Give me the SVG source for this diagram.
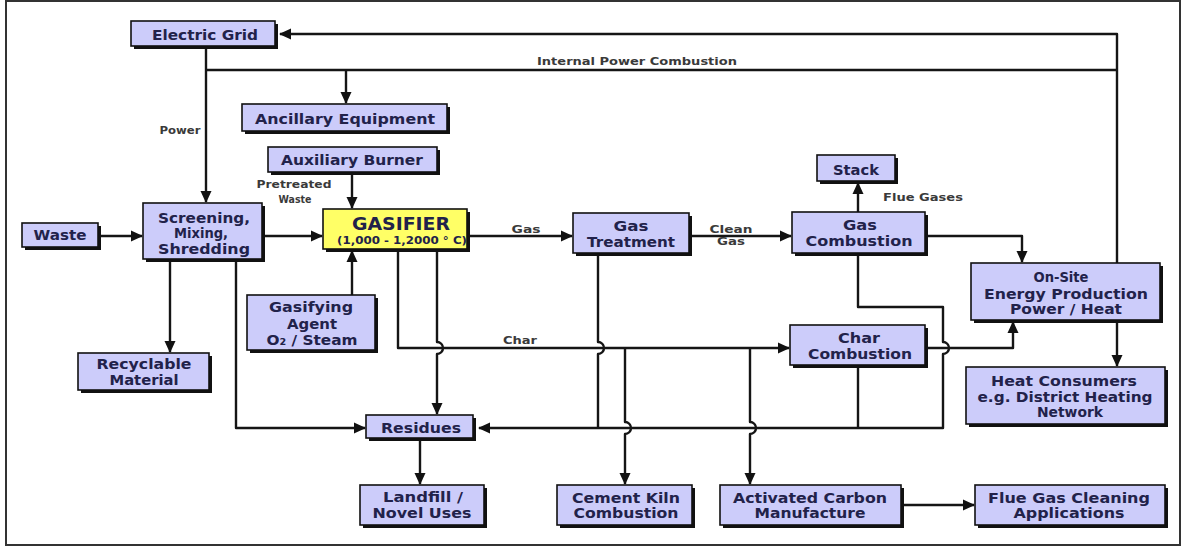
<svg xmlns="http://www.w3.org/2000/svg" width="1182" height="547" viewBox="0 0 1182 547">
  <style>
    .box { fill: #ccccfa; stroke: #111; stroke-width: 1.6; }
    .gas { fill: #ffff66; stroke: #111; stroke-width: 1.6; }
    .shadow { fill: #111; }
    .t { font-family: "DejaVu Sans", Verdana, sans-serif; font-weight: bold; font-size: 14px; fill: #22224a; text-anchor: middle; }
    .lbl { font-family: "DejaVu Sans", Verdana, sans-serif; font-weight: bold; font-size: 10px; fill: #3a3a3a; text-anchor: middle; }
    .ln { fill: none; stroke: #151515; stroke-width: 2.4; stroke-linejoin: round; }
  </style>
  <defs>
    <marker id="ah" markerUnits="userSpaceOnUse" markerWidth="12" markerHeight="12" viewBox="0 0 12 12" refX="11" refY="6" orient="auto">
      <path d="M0,0.5 L12,6 L0,11.5 Z" fill="#111"/>
    </marker>
  </defs>

  <rect x="0" y="0" width="1182" height="547" fill="#fff"/>
  <rect x="6" y="1" width="1174" height="544" fill="#fff" stroke="#333" stroke-width="2"/>

  <!-- connectors -->
  <g id="connectors">
    <path class="ln" d="M1117,263 V34 H280" marker-end="url(#ah)"/>
    <path class="ln" d="M206,70 H1117"/>
    <path class="ln" d="M206,49 V202" marker-end="url(#ah)"/>
    <path class="ln" d="M346,70 V103" marker-end="url(#ah)"/>
    <path class="ln" d="M352,174 V208" marker-end="url(#ah)"/>
    <path class="ln" d="M352,295 V251" marker-end="url(#ah)"/>
    <path class="ln" d="M98,236 H142" marker-end="url(#ah)"/>
    <path class="ln" d="M263,236 H322" marker-end="url(#ah)"/>
    <path class="ln" d="M170,261 V352" marker-end="url(#ah)"/>
    <path class="ln" d="M236,261 V428 H365" marker-end="url(#ah)"/>
    <!-- char line from gasifier -->
    <path class="ln" d="M398,251 V348 H789" marker-end="url(#ah)"/>
    <!-- gasifier to residues, hopping the char line -->
    <path class="ln" d="M437,251 V342 a6,6 0 0 1 0,12 V414" marker-end="url(#ah)"/>
    <path class="ln" d="M468,236 H572" marker-end="url(#ah)"/>
    <path class="ln" d="M690,236 H791" marker-end="url(#ah)"/>
    <!-- gas treatment residue drop -->
    <path class="ln" d="M598,255 V342 a6,6 0 0 1 0,12 V428"/>
    <!-- char branches -->
    <path class="ln" d="M625,348 V422 a6,6 0 0 1 0,12 V484" marker-end="url(#ah)"/>
    <path class="ln" d="M750,348 V422 a6,6 0 0 1 0,12 V484" marker-end="url(#ah)"/>
    <!-- stack -->
    <path class="ln" d="M858,212 V183" marker-end="url(#ah)"/>
    <path class="ln" d="M926,236 H1022 V262" marker-end="url(#ah)"/>
    <!-- combustion residues return line -->
    <path class="ln" d="M858,255 V307 H943 V342 a6,6 0 0 1 0,12 V428 H479" marker-end="url(#ah)"/>
    <path class="ln" d="M858,367 V428"/>
    <path class="ln" d="M926,348 H1013 V322" marker-end="url(#ah)"/>
    <path class="ln" d="M1117,322 V366" marker-end="url(#ah)"/>
    <path class="ln" d="M902,505 H974" marker-end="url(#ah)"/>
    <path class="ln" d="M420,439 V484" marker-end="url(#ah)"/>
  </g>

  <!-- connector labels -->
  <g id="labels">
    <text class="lbl" x="637" y="65" textLength="200" lengthAdjust="spacingAndGlyphs">Internal Power Combustion</text>
    <text class="lbl" x="180" y="134" textLength="41" lengthAdjust="spacingAndGlyphs">Power</text>
    <text class="lbl" x="294" y="188" textLength="75" lengthAdjust="spacingAndGlyphs">Pretreated</text>
    <text class="lbl" x="295" y="203" textLength="33" lengthAdjust="spacingAndGlyphs">Waste</text>
    <text class="lbl" x="526" y="233" textLength="29" lengthAdjust="spacingAndGlyphs">Gas</text>
    <text class="lbl" x="731" y="233" textLength="43" lengthAdjust="spacingAndGlyphs">Clean</text>
    <text class="lbl" x="731" y="245" textLength="28" lengthAdjust="spacingAndGlyphs">Gas</text>
    <text class="lbl" x="520" y="344" textLength="34" lengthAdjust="spacingAndGlyphs">Char</text>
    <text class="lbl" x="923" y="201" textLength="80" lengthAdjust="spacingAndGlyphs">Flue Gases</text>
  </g>

  <g id="electric-grid">
    <rect class="shadow" x="134" y="24" width="144" height="25"/>
    <rect class="box" x="131" y="21" width="144" height="25"/>
    <text class="t" x="205" y="40" textLength="106" lengthAdjust="spacingAndGlyphs">Electric Grid</text>
  </g>
  <g id="ancillary-equipment">
    <rect class="shadow" x="245" y="107" width="205" height="27"/>
    <rect class="box" x="242" y="104" width="205" height="27"/>
    <text class="t" x="345" y="124" textLength="180" lengthAdjust="spacingAndGlyphs">Ancillary Equipment</text>
  </g>
  <g id="auxiliary-burner">
    <rect class="shadow" x="271" y="150" width="169" height="25"/>
    <rect class="box" x="268" y="147" width="169" height="25"/>
    <text class="t" x="352" y="165" textLength="142" lengthAdjust="spacingAndGlyphs">Auxiliary Burner</text>
  </g>
  <g id="waste">
    <rect class="shadow" x="25" y="226" width="76" height="24"/>
    <rect class="box" x="22" y="223" width="76" height="24"/>
    <text class="t" x="60" y="240" textLength="53" lengthAdjust="spacingAndGlyphs">Waste</text>
  </g>
  <g id="screening">
    <rect class="shadow" x="146" y="206" width="119" height="56"/>
    <rect class="box" x="143" y="203" width="119" height="56"/>
    <text class="t" x="204" y="223" textLength="92" lengthAdjust="spacingAndGlyphs">Screening,</text>
    <text class="t" x="201" y="238" textLength="54" lengthAdjust="spacingAndGlyphs">Mixing,</text>
    <text class="t" x="204" y="254" textLength="92" lengthAdjust="spacingAndGlyphs">Shredding</text>
  </g>
  <g id="gasifier">
    <rect class="shadow" x="326" y="212" width="144" height="40"/>
    <rect class="gas" x="323" y="209" width="144" height="40"/>
    <text class="t" x="401" y="230" style="font-size:17px" textLength="98" lengthAdjust="spacingAndGlyphs">GASIFIER</text>
    <text class="t" x="402" y="244" style="font-size:10px" textLength="130" lengthAdjust="spacingAndGlyphs">(1,000 - 1,2000 ° C)</text>
  </g>
  <g id="gasifying-agent">
    <rect class="shadow" x="250" y="298" width="128" height="55"/>
    <rect class="box" x="247" y="295" width="128" height="55"/>
    <text class="t" x="311" y="312" textLength="84" lengthAdjust="spacingAndGlyphs">Gasifying</text>
    <text class="t" x="312" y="329" textLength="50" lengthAdjust="spacingAndGlyphs">Agent</text>
    <text class="t" x="312" y="345" textLength="91" lengthAdjust="spacingAndGlyphs">O₂ / Steam</text>
  </g>
  <g id="recyclable-material">
    <rect class="shadow" x="81" y="356" width="131" height="37"/>
    <rect class="box" x="78" y="353" width="131" height="37"/>
    <text class="t" x="144" y="369" textLength="95" lengthAdjust="spacingAndGlyphs">Recyclable</text>
    <text class="t" x="144" y="385" textLength="69" lengthAdjust="spacingAndGlyphs">Material</text>
  </g>
  <g id="residues">
    <rect class="shadow" x="369" y="418" width="107" height="23"/>
    <rect class="box" x="366" y="415" width="107" height="23"/>
    <text class="t" x="421" y="433" textLength="80" lengthAdjust="spacingAndGlyphs">Residues</text>
  </g>
  <g id="landfill">
    <rect class="shadow" x="363" y="488" width="124" height="40"/>
    <rect class="box" x="360" y="485" width="124" height="40"/>
    <text class="t" x="423" y="502" textLength="80" lengthAdjust="spacingAndGlyphs">Landfill /</text>
    <text class="t" x="422" y="518" textLength="99" lengthAdjust="spacingAndGlyphs">Novel Uses</text>
  </g>
  <g id="gas-treatment">
    <rect class="shadow" x="576" y="216" width="116" height="40"/>
    <rect class="box" x="573" y="213" width="116" height="40"/>
    <text class="t" x="631" y="231" textLength="35" lengthAdjust="spacingAndGlyphs">Gas</text>
    <text class="t" x="631" y="247" textLength="88" lengthAdjust="spacingAndGlyphs">Treatment</text>
  </g>
  <g id="stack">
    <rect class="shadow" x="820" y="158" width="78" height="26"/>
    <rect class="box" x="817" y="155" width="78" height="26"/>
    <text class="t" x="856" y="175" textLength="46" lengthAdjust="spacingAndGlyphs">Stack</text>
  </g>
  <g id="gas-combustion">
    <rect class="shadow" x="795" y="215" width="133" height="41"/>
    <rect class="box" x="792" y="212" width="133" height="41"/>
    <text class="t" x="860" y="230" textLength="34" lengthAdjust="spacingAndGlyphs">Gas</text>
    <text class="t" x="859" y="246" textLength="107" lengthAdjust="spacingAndGlyphs">Combustion</text>
  </g>
  <g id="on-site-energy">
    <rect class="shadow" x="974" y="266" width="189" height="57"/>
    <rect class="box" x="971" y="263" width="189" height="57"/>
    <text class="t" x="1061" y="282" textLength="55" lengthAdjust="spacingAndGlyphs">On-Site</text>
    <text class="t" x="1066" y="299" textLength="164" lengthAdjust="spacingAndGlyphs">Energy Production</text>
    <text class="t" x="1066" y="314" textLength="112" lengthAdjust="spacingAndGlyphs">Power / Heat</text>
  </g>
  <g id="char-combustion">
    <rect class="shadow" x="793" y="328" width="135" height="40"/>
    <rect class="box" x="790" y="325" width="135" height="40"/>
    <text class="t" x="859" y="343" textLength="42" lengthAdjust="spacingAndGlyphs">Char</text>
    <text class="t" x="860" y="359" textLength="104" lengthAdjust="spacingAndGlyphs">Combustion</text>
  </g>
  <g id="heat-consumers">
    <rect class="shadow" x="969" y="370" width="199" height="57"/>
    <rect class="box" x="966" y="367" width="199" height="57"/>
    <text class="t" x="1064" y="386" textLength="146" lengthAdjust="spacingAndGlyphs">Heat Consumers</text>
    <text class="t" x="1065" y="402" textLength="175" lengthAdjust="spacingAndGlyphs">e.g. District Heating</text>
    <text class="t" x="1070" y="417" textLength="66" lengthAdjust="spacingAndGlyphs">Network</text>
  </g>
  <g id="cement-kiln">
    <rect class="shadow" x="560" y="488" width="135" height="40"/>
    <rect class="box" x="557" y="485" width="135" height="40"/>
    <text class="t" x="626" y="503" textLength="108" lengthAdjust="spacingAndGlyphs">Cement Kiln</text>
    <text class="t" x="626" y="518" textLength="105" lengthAdjust="spacingAndGlyphs">Combustion</text>
  </g>
  <g id="activated-carbon">
    <rect class="shadow" x="723" y="488" width="181" height="40"/>
    <rect class="box" x="720" y="485" width="181" height="40"/>
    <text class="t" x="810" y="503" textLength="154" lengthAdjust="spacingAndGlyphs">Activated Carbon</text>
    <text class="t" x="810" y="518" textLength="111" lengthAdjust="spacingAndGlyphs">Manufacture</text>
  </g>
  <g id="flue-gas-cleaning">
    <rect class="shadow" x="978" y="488" width="190" height="40"/>
    <rect class="box" x="975" y="485" width="190" height="40"/>
    <text class="t" x="1069" y="503" textLength="162" lengthAdjust="spacingAndGlyphs">Flue Gas Cleaning</text>
    <text class="t" x="1069" y="518" textLength="111" lengthAdjust="spacingAndGlyphs">Applications</text>
  </g>
</svg>
